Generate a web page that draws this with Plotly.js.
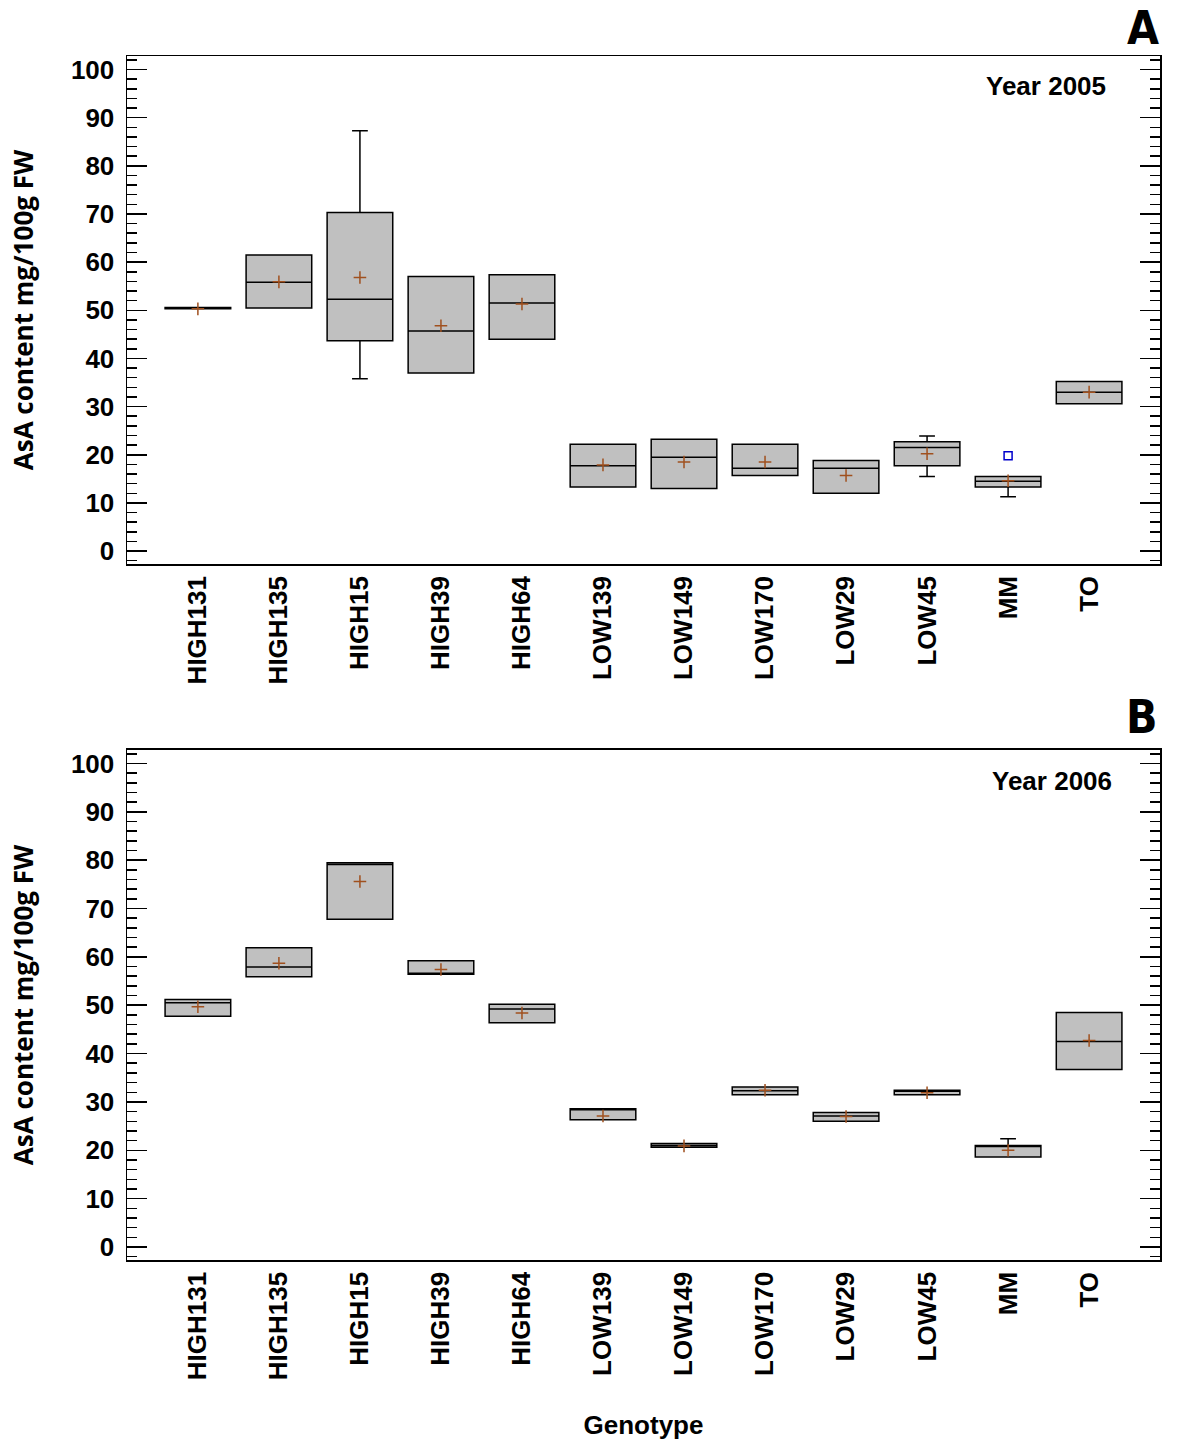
<!DOCTYPE html>
<html>
<head>
<meta charset="utf-8">
<script src="https://cdn.plot.ly/plotly-3.0.1.min.js"></script>
<style>
body{margin:0;background:#fff;}
#plot{width:1200px;height:1440px;}
</style>
</head>
<body>
<div id="plot"></div>
<script>
const genotypes = ['HIGH131','HIGH135','HIGH15','HIGH39','HIGH64','LOW139','LOW149','LOW170','LOW29','LOW45','MM','TO']

// year 2005 (panel A)
const q1_2005   = [50.3, 50.5, 43.7, 37.0, 44.0, 13.3, 13.0, 15.7, 12.0, 17.7, 13.3, 30.6]
const med_2005  = [50.45, 55.8, 52.3, 45.7, 51.5, 17.7, 19.5, 17.2, 17.2, 21.5, 14.5, 33.0]
const q3_2005   = [50.6, 61.5, 70.3, 57.0, 57.4, 22.2, 23.2, 22.2, 18.8, 22.7, 15.5, 35.2]
const low_2005  = [50.3, 50.5, 35.8, 37.0, 44.0, 13.3, 13.0, 15.7, 12.0, 15.5, 11.3, 30.6]
const high_2005 = [50.6, 61.5, 87.3, 57.0, 57.4, 22.2, 23.2, 22.2, 18.8, 23.9, 15.5, 35.2]
const mean_2005 = [50.3, 55.9, 56.8, 46.8, 51.3, 17.9, 18.5, 18.5, 15.7, 20.2, 14.6, 33.0]
const outX_2005 = ['MM']
const outY_2005 = [19.8]

// year 2006 (panel B)
const q1_2006   = [47.7, 55.9, 67.8, 56.4, 46.4, 26.3, 20.6, 31.5, 26.0, 31.5, 18.6, 36.7]
const med_2006  = [50.5, 57.9, 79.1, 56.6, 49.2, 28.5, 21.0, 32.3, 27.1, 32.2, 20.8, 42.5]
const q3_2006   = [51.2, 61.9, 79.5, 59.2, 50.2, 28.6, 21.4, 33.1, 27.8, 32.4, 21.0, 48.5]
const low_2006  = [47.7, 55.9, 67.8, 56.4, 46.4, 26.3, 20.6, 31.5, 26.0, 31.5, 18.6, 36.7]
const high_2006 = [51.2, 61.9, 79.5, 59.2, 50.2, 28.6, 21.4, 33.1, 27.8, 32.4, 22.4, 48.5]
const mean_2006 = [49.7, 58.7, 75.6, 57.4, 48.4, 27.1, 20.9, 32.4, 27.0, 31.9, 20.0, 42.7]

const boxFill = '#c0c0c0'
const meanColor = '#a0501e'

const boxTrace = (q1, med, q3, lo, hi, xa, ya) => ({
  type: 'box',
  x: genotypes, q1: q1, median: med, q3: q3,
  lowerfence: lo, upperfence: hi,
  xaxis: xa, yaxis: ya,
  width: 0.81,
  whiskerwidth: 0.24,
  fillcolor: boxFill,
  line: {color: '#000', width: 1.5},
  boxpoints: false,
  hoverinfo: 'skip'
})

const meanTrace = (m, xa, ya) => ({
  type: 'scatter', mode: 'markers',
  x: genotypes, y: m, xaxis: xa, yaxis: ya,
  marker: {symbol: 'cross-thin', size: 9, line: {color: meanColor, width: 1.5}},
  hoverinfo: 'skip'
})

const data = [
  boxTrace(q1_2005, med_2005, q3_2005, low_2005, high_2005, 'x2', 'y2'),
  meanTrace(mean_2005, 'x2', 'y2'),
  {type: 'scatter', mode: 'markers', x: outX_2005, y: outY_2005, xaxis: 'x2', yaxis: 'y2',
   marker: {symbol: 'square-open', size: 8, color: '#0000cc', line: {width: 1.5}}, hoverinfo: 'skip'},
  boxTrace(q1_2006, med_2006, q3_2006, low_2006, high_2006, 'x', 'y'),
  meanTrace(mean_2006, 'x', 'y')
]

const tickFont = {family: 'Liberation Sans, Arial, sans-serif', size: 26, color: '#000', weight: 'bold'}
const titleFont = {family: 'Open Sans, sans-serif', size: 26, color: '#000', weight: 'bold'}

const yAxis = (domain) => ({
  domain: domain,
  range: [-2.7, 102.8],
  dtick: 10, tick0: 0,
  ticks: 'inside', ticklen: 20, tickwidth: 1.5, tickcolor: '#000',
  ticklabelstandoff: 6,
  minor: {dtick: 2, ticks: 'inside', ticklen: 10, tickwidth: 1.5, tickcolor: '#000'},
  showline: true, linecolor: '#000', linewidth: 1.5, mirror: 'ticks',
  showgrid: false, zeroline: false,
  tickfont: tickFont,
  title: {text: 'AsA content mg/100g FW', font: titleFont, standoff: 30}
})

const xAxis = (anchor, title) => ({
  anchor: anchor,
  type: 'category',
  range: [-0.875, 11.875],
  tickangle: -90,
  ticks: '',
  showline: true, linecolor: '#000', linewidth: 1.5, mirror: true,
  showgrid: false, zeroline: false,
  tickfont: tickFont,
  title: title ? {text: title, font: {family: 'Liberation Sans, Arial, sans-serif', size: 26, color: '#000', weight: 'bold'}, standoff: 40} : {text: ''}
})

const labelFont = {family: 'Liberation Sans Narrow, DejaVu Sans Condensed, sans-serif', size: 46, color: '#000', weight: 'bold'}
const yearFont = {family: 'Liberation Sans, Arial, sans-serif', size: 26, color: '#000', weight: 'bold'}

const layout = {
  width: 1200, height: 1440,
  margin: {l: 127, r: 40, t: 56, b: 180},
  paper_bgcolor: '#fff', plot_bgcolor: '#fff',
  showlegend: false,
  xaxis: xAxis('y', 'Genotype'),
  yaxis: yAxis([0, 0.4236]),
  xaxis2: xAxis('y2', ''),
  yaxis2: yAxis([0.578, 1]),
  annotations: [
    {text: 'Year 2005', xref: 'x2 domain', yref: 'y2 domain', x: 0.95, y: 0.94, xanchor: 'right', yanchor: 'middle', showarrow: false, font: yearFont},
    {text: 'Year 2006', xref: 'x domain', yref: 'y domain', x: 0.955, y: 0.94, xanchor: 'right', yanchor: 'middle', showarrow: false, font: yearFont},
    {text: 'A', xref: 'paper', yref: 'paper', x: 1.0, y: 1.0465, xanchor: 'right', yanchor: 'top', borderpad: 0, showarrow: false, font: labelFont},
    {text: 'B', xref: 'paper', yref: 'paper', x: 1.0, y: 0.451, xanchor: 'right', yanchor: 'middle', showarrow: false, font: labelFont}
  ]
}

Plotly.newPlot('plot', data, layout, {staticPlot: true})
</script>
</body>
</html>
